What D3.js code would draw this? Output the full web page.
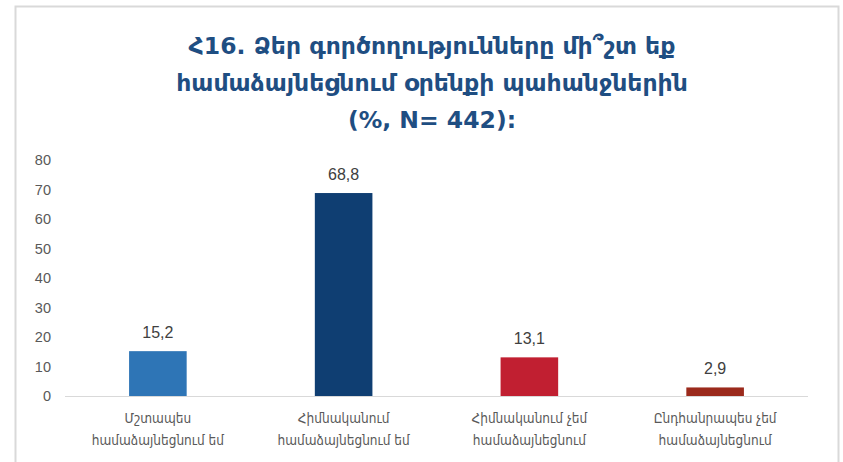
<!DOCTYPE html>
<html>
<head>
<meta charset="utf-8">
<script src="https://cdn.jsdelivr.net/npm/d3@7"></script>
<style>
  body { margin: 0; background: #fff; }
  svg { display: block; }
</style>
</head>
<body>
<script>
// chart data
var categories = [
  ["Մշտապես", "համաձայնեցնում եմ"],
  ["Հիմնականում", "համաձայնեցնում եմ"],
  ["Հիմնականում չեմ", "համաձայնեցնում"],
  ["Ընդհանրապես չեմ", "համաձայնեցնում"]
];
var values = [15.2, 68.8, 13.1, 2.9];
var barColors = ["#2e75b6", "#0f3e72", "#c11f31", "#9b2a1c"];
var yTicks = [0, 10, 20, 30, 40, 50, 60, 70, 80];
var titleLines = [
  "Հ16. Ձեր գործողությունները մի՞շտ եք",
  "համաձայնեցնում օրենքի պահանջներին",
  "(%, N= 442):"
];

var W = 843, H = 462;
var margin = {top: 160, right: 35, bottom: 66, left: 65};
var width = W - margin.left - margin.right,
    height = H - margin.top - margin.bottom;

var svg = d3.select("body").append("svg")
    .attr("width", W)
    .attr("height", H);

// outer frame
svg.append("rect")
    .attr("x", 15.5).attr("y", 6.5)
    .attr("width", 823).attr("height", 470)
    .attr("fill", "none")
    .attr("stroke", "#d9d9d9")
    .attr("stroke-width", 2);

// title
svg.append("text")
    .attr("text-anchor", "middle")
    .attr("font-family", "DejaVu Sans, sans-serif")
    .attr("font-weight", "bold")
    .attr("font-size", 23.5)
    .attr("fill", "#1f4e82")
    .selectAll("tspan")
    .data(titleLines)
    .enter().append("tspan")
    .attr("x", 432)
    .attr("y", function(d, i) { return 54 + i * 37; })
    .text(function(d) { return d; });

var g = svg.append("g")
    .attr("transform", "translate(" + margin.left + "," + margin.top + ")");

var x = d3.scaleBand()
    .domain(d3.range(values.length))
    .range([0, width])
    .paddingInner(0.69)
    .paddingOuter(0.345);

var y = d3.scaleLinear()
    .domain([0, 80])
    .range([height, 0]);

// y axis labels only
var yAxis = g.append("g")
    .call(d3.axisLeft(y).tickValues(yTicks).tickSize(0).tickPadding(14));
yAxis.select(".domain").remove();
yAxis.selectAll("text")
    .attr("font-family", "Liberation Sans, Arial, sans-serif")
    .attr("font-size", 14.5)
    .attr("fill", "#595959");

// baseline
g.append("line")
    .attr("x1", 0).attr("x2", width)
    .attr("y1", y(0) + 0.5).attr("y2", y(0) + 0.5)
    .attr("stroke", "#d9d9d9")
    .attr("stroke-width", 1);

// bars
g.selectAll("rect.bar")
    .data(values)
    .enter().append("rect")
    .attr("class", "bar")
    .attr("x", function(d, i) { return x(i); })
    .attr("y", function(d) { return y(d); })
    .attr("width", x.bandwidth())
    .attr("height", function(d) { return y(0) - y(d); })
    .attr("fill", function(d, i) { return barColors[i]; });

// value labels
g.selectAll("text.val")
    .data(values)
    .enter().append("text")
    .attr("class", "val")
    .attr("x", function(d, i) { return x(i) + x.bandwidth() / 2; })
    .attr("y", function(d) { return y(d) - 13; })
    .attr("text-anchor", "middle")
    .attr("font-family", "Liberation Sans, Arial, sans-serif")
    .attr("font-size", 16)
    .attr("fill", "#404040")
    .text(function(d) { return String(d).replace(".", ","); });

// category labels
var cat = g.selectAll("text.cat")
    .data(categories)
    .enter().append("text")
    .attr("class", "cat")
    .attr("text-anchor", "middle")
    .attr("font-family", "DejaVu Sans Condensed, DejaVu Sans, sans-serif")
    .attr("font-size", 13.5)
    .attr("fill", "#595959");
cat.selectAll("tspan")
    .data(function(d, i) { return d.map(function(t) { return {t: t, i: i}; }); })
    .enter().append("tspan")
    .attr("x", function(d) { return x(d.i) + x.bandwidth() / 2; })
    .attr("y", function(d, j) { return height + 27 + j * 22; })
    .text(function(d) { return d.t; });
</script>
</body>
</html>
